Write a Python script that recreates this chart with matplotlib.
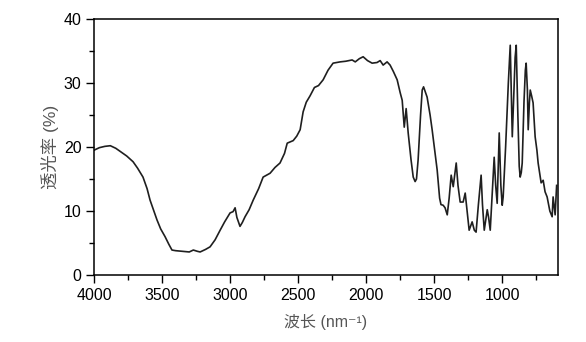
import matplotlib
matplotlib.use("Agg")
import matplotlib.pyplot as plt
from matplotlib.ticker import MultipleLocator

wavenumber = [4000, 3960, 3920, 3880, 3840, 3800, 3760, 3713, 3680, 3640, 3610, 3588, 3560,
              3537, 3510, 3478, 3450, 3427, 3400, 3350, 3300, 3270, 3240, 3220, 3180, 3147,
              3110, 3073, 3040, 3000, 2978, 2963, 2950, 2927, 2910, 2890, 2860, 2830, 2790,
              2757, 2706, 2670, 2633, 2600, 2580, 2536, 2510, 2485, 2463, 2440, 2412, 2380,
              2350, 2316, 2280, 2243, 2191, 2150, 2103, 2080, 2050, 2022, 1990, 1956, 1920,
              1897, 1875, 1846, 1824, 1800, 1772, 1750, 1735, 1720, 1706, 1691, 1670, 1654,
              1640, 1630, 1618, 1600, 1588, 1578, 1552, 1530, 1515, 1490, 1478, 1460, 1450,
              1434, 1420, 1404, 1390, 1375, 1360, 1338, 1325, 1309, 1287, 1272, 1258, 1243,
              1221, 1205, 1192, 1175, 1155, 1145, 1132, 1110, 1100, 1088, 1075, 1059, 1048,
              1037, 1022, 1010, 1000, 993, 975, 955, 941, 935, 926, 915, 905, 897, 885, 875,
              868, 860, 853, 840, 830, 824, 815, 809, 800, 794, 784, 773, 765, 758, 745, 736,
              720, 714, 699, 685, 670, 650, 633, 626, 611, 600]
transmittance = [19.5, 19.9, 20.1, 20.2, 19.8, 19.2, 18.6, 17.7, 16.7, 15.3, 13.5, 11.7, 10.0,
                 8.6, 7.2, 6.0, 4.8, 3.9, 3.8, 3.7, 3.6, 3.9, 3.7, 3.6, 4.0, 4.4,
                 5.5, 7.0, 8.3, 9.7, 9.9, 10.5, 9.0, 7.6, 8.2, 9.1, 10.2, 11.7, 13.5,
                 15.3, 15.9, 16.8, 17.5, 19.0, 20.6, 21.0, 21.7, 22.7, 25.5, 27.0, 28.0, 29.3,
                 29.6, 30.5, 32.0, 33.1, 33.3, 33.4, 33.6, 33.3, 33.8, 34.1, 33.5, 33.1, 33.2,
                 33.5, 32.8, 33.3, 32.8, 31.8, 30.5, 28.5, 27.3, 23.1, 26.0, 22.2, 18.0, 15.3,
                 14.6, 15.0, 18.0, 25.0, 28.9, 29.4, 27.8, 25.0, 22.7, 18.5, 16.4, 12.0, 11.0,
                 10.9, 10.5, 9.4, 12.0, 15.6, 13.8, 17.5, 14.0, 11.4, 11.4, 12.8, 10.0, 7.0,
                 8.3, 7.0, 6.7, 11.0, 15.6, 11.0, 7.0, 10.2, 9.0, 7.0, 12.0, 18.4, 14.0,
                 11.2, 22.2, 14.0, 10.9, 12.2, 20.0, 30.0, 35.9, 30.0, 21.6, 28.0, 34.0, 35.9, 25.0, 17.0,
                 15.3, 16.0, 17.5, 27.0, 32.0, 33.1, 29.0, 22.7, 27.0, 28.9, 28.0, 26.9, 24.0, 21.6, 19.5, 17.5,
                 15.3, 14.4, 14.8, 13.0, 12.2, 10.0, 9.1, 12.2, 9.4, 14.0]

x_ticks = [4000, 3500, 3000, 2500, 2000, 1500, 1000]
y_ticks = [0, 10, 20, 30, 40]

plt.rcParams['font.family'] = ['Liberation Sans', 'Noto Sans CJK SC', 'DejaVu Sans']

fig = plt.figure(figsize=(5.86, 3.42), dpi=100)
ax = fig.add_axes([94/586, 1-275/342, (558-94)/586, (275-19)/342])
ax.plot(wavenumber, transmittance, color='#1f1f1f', lw=1.2)
ax.set_xlim(4000, 590)
ax.set_ylim(0, 40)
ax.set_xticks(x_ticks)
ax.set_yticks(y_ticks)
ax.xaxis.set_minor_locator(MultipleLocator(250))
ax.yaxis.set_minor_locator(MultipleLocator(5))
ax.tick_params(which='major', direction='out', length=6, width=1, labelsize=11.5, pad=3)
ax.tick_params(which='minor', direction='out', length=3.5, width=1)
for s in ax.spines.values():
    s.set_linewidth(1.1)
ax.set_xlabel('波长 (nm⁻¹)', fontsize=11.5, color='#555555',
              family=['Liberation Sans', 'Noto Sans CJK SC', 'DejaVu Sans'], labelpad=8)
ax.set_ylabel('透光率 (%)', fontsize=12.5, color='#555555',
              family=['Liberation Sans', 'Noto Sans CJK SC', 'DejaVu Sans'], labelpad=3)
fig.savefig('out.png', dpi=100)
